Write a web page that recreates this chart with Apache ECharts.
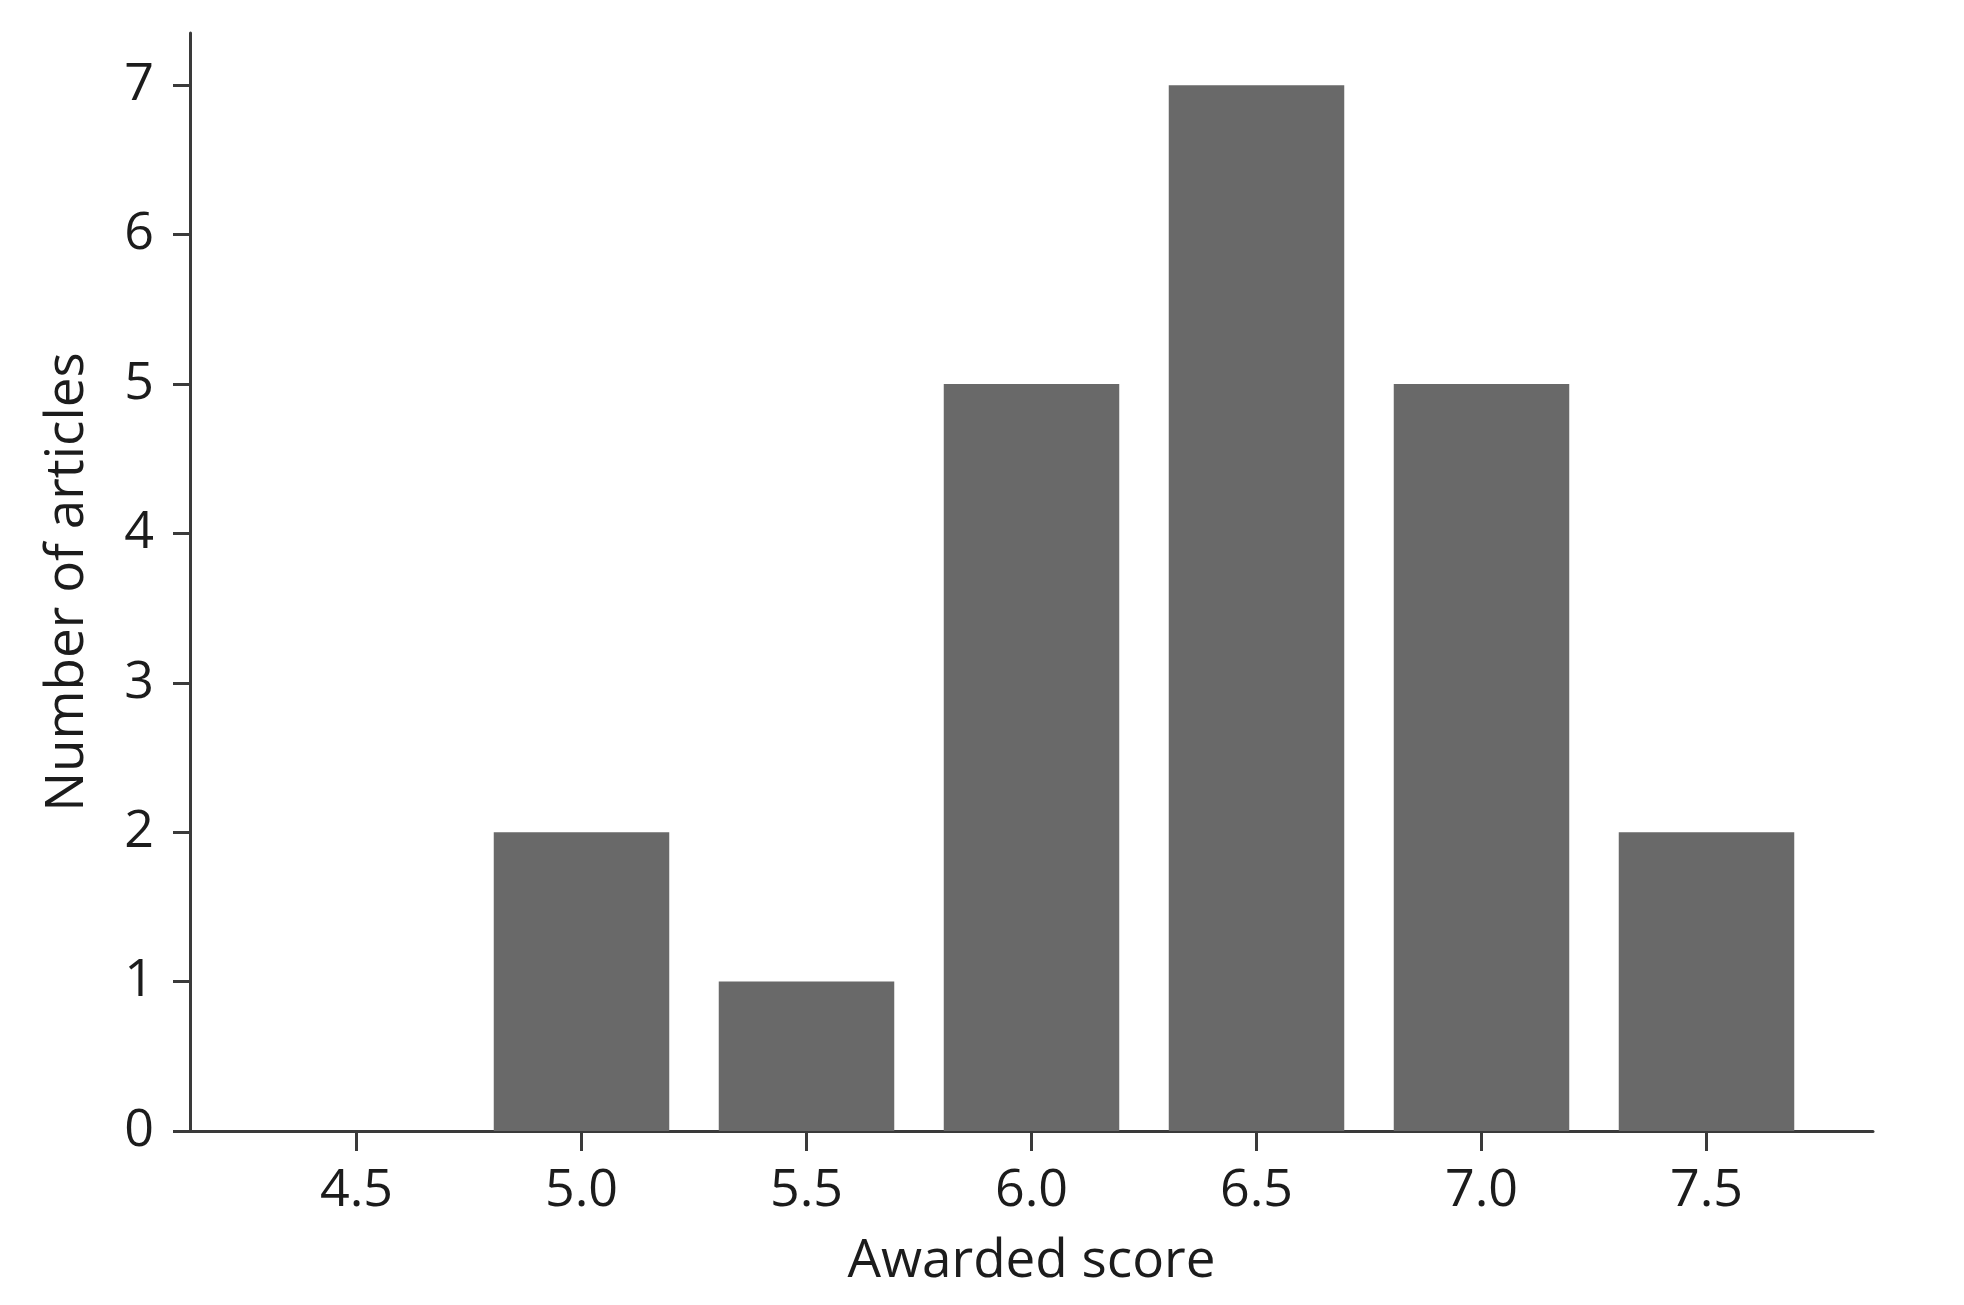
<!DOCTYPE html>
<html lang="en">
<head>
  <meta charset="UTF-8">
  <title>Awarded score histogram</title>
  <script src="https://cdn.jsdelivr.net/npm/echarts@6.0.0/dist/echarts.min.js"></script>
  <style>
    html, body { margin: 0; padding: 0; background: #fff; }
    #chart { width: 1964px; height: 1305px; }
  </style>
</head>
<body>
  <div id="chart"></div>
  <script>
    // score bins and article counts
    const scores = [4.5, 5.0, 5.5, 6.0, 6.5, 7.0, 7.5];
    const counts = [0, 2, 1, 5, 7, 5, 2];
    const xTicks = [4.5, 5.0, 5.5, 6.0, 6.5, 7.0, 7.5];
    const yTicks = [0, 1, 2, 3, 4, 5, 6, 7];

    const xMin = 4.13, xMax = 7.87;
    const binWidth = 0.39;

    const grid = { left: 190, right: 91, top: 33, bottom: 174 };
    const plotWidth = 1964 - grid.left - grid.right;
    // bar width in pixels from the value axis scale
    const barPx = binWidth * plotWidth / (xMax - xMin);

    const textColor = '#1c1c1c';
    const axisColor = '#3a3a3a';
    const fontFamily = '"Open Sans", "DejaVu Sans", sans-serif';

    const chart = echarts.init(document.getElementById('chart'));
    chart.setOption({
      animation: false,
      grid: grid,
      xAxis: {
        type: 'value',
        min: xMin,
        max: xMax,
        name: 'Awarded score',
        nameLocation: 'middle',
        nameGap: 104,
        nameTextStyle: { fontSize: 53, color: textColor, fontFamily: fontFamily },
        splitLine: { show: false },
        axisLine: { show: true, onZero: false, lineStyle: { color: axisColor, width: 3 } },
        axisTick: { show: true, length: 20, customValues: xTicks, lineStyle: { color: axisColor, width: 3 } },
        axisLabel: {
          customValues: xTicks,
          margin: 34,
          fontSize: 52,
          color: textColor,
          fontFamily: fontFamily,
          formatter: v => v.toFixed(1)
        }
      },
      yAxis: {
        type: 'value',
        min: 0,
        max: 7.35,
        name: 'Number of articles',
        nameLocation: 'middle',
        nameGap: 96,
        nameTextStyle: { fontSize: 53, color: textColor, fontFamily: fontFamily },
        splitLine: { show: false },
        axisLine: { show: true, lineStyle: { color: axisColor, width: 3 } },
        axisTick: { show: true, length: 17, customValues: yTicks, lineStyle: { color: axisColor, width: 3 } },
        axisLabel: {
          customValues: yTicks,
          margin: 36,
          fontSize: 52,
          color: textColor,
          fontFamily: fontFamily
        }
      },
      series: [{
        type: 'bar',
        barWidth: barPx,
        data: scores.map((s, i) => [s, counts[i]]),
        itemStyle: { color: '#696969' }
      }]
    });
  </script>
</body>
</html>
